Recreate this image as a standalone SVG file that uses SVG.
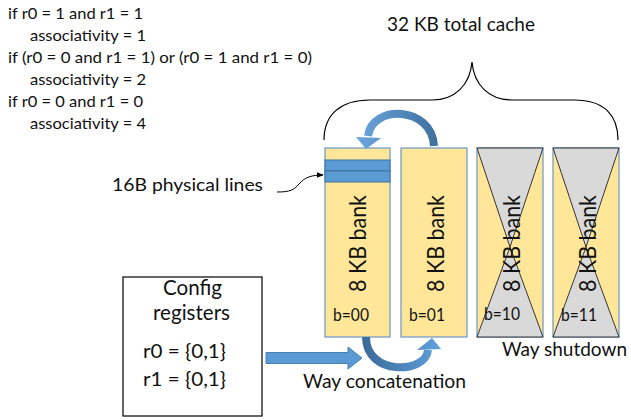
<svg xmlns="http://www.w3.org/2000/svg" width="631" height="420" viewBox="0 0 631 420">
<style>
text{font-family:Lato,"Open Sans","Liberation Sans",sans-serif;fill:#111}
.bank{fill:#ffe699;stroke:#6a98c8;stroke-width:1.2}
.tri{fill:#d9d9d9;stroke:#222;stroke-width:0.9}
.line{fill:#5b9bd5;stroke:#41719c;stroke-width:1}
.bt{font-size:24px}
.bl{font-size:17px}
.cond{font-size:16px}
</style>
<defs>
<linearGradient id="gTop" gradientUnits="userSpaceOnUse" x1="360" y1="0" x2="440" y2="0">
<stop offset="0" stop-color="#6aa4dc"/><stop offset="1" stop-color="#3d6e9d"/>
</linearGradient>
<linearGradient id="gBot" gradientUnits="userSpaceOnUse" x1="362" y1="0" x2="440" y2="0">
<stop offset="0" stop-color="#3b6a98"/><stop offset="1" stop-color="#5fa0dc"/>
</linearGradient>
<marker id="ah" viewBox="0 0 10 10" refX="9" refY="5" markerWidth="7" markerHeight="7" orient="auto">
<path d="M0,1 L10,5 L0,9 Z" fill="#000"/>
</marker>
</defs>

<g id="conditions">
<text class="cond" x="8" y="19" textLength="135" lengthAdjust="spacingAndGlyphs">if r0 = 1 and r1 = 1</text>
<text class="cond" x="30" y="41" textLength="116" lengthAdjust="spacingAndGlyphs">associativity = 1</text>
<text class="cond" x="8" y="63" textLength="304" lengthAdjust="spacingAndGlyphs">if (r0 = 0 and r1 = 1) or (r0 = 1 and r1 = 0)</text>
<text class="cond" x="30" y="85" textLength="116" lengthAdjust="spacingAndGlyphs">associativity = 2</text>
<text class="cond" x="8" y="107" textLength="135" lengthAdjust="spacingAndGlyphs">if r0 = 0 and r1 = 0</text>
<text class="cond" x="30" y="129" textLength="116" lengthAdjust="spacingAndGlyphs">associativity = 4</text>
</g>

<g id="total-cache">
<text x="387" y="31" font-size="20" textLength="148" lengthAdjust="spacingAndGlyphs">32 KB total cache</text>
<path d="M324,140 C324,115 340,100 370,100 L432,100 C455,100 470,85 472,62 C474,85 489,100 512,100 L574,100 C604,100 618,115 618,140" fill="none" stroke="#000" stroke-width="1.2"/>
</g>

<g id="bank0">
<rect class="bank" x="325" y="148" width="65" height="189"/>
<rect class="line" x="325" y="160" width="65" height="11"/>
<rect class="line" x="325" y="171" width="65" height="11"/>
<text class="bt" transform="translate(366,243.5) rotate(-90)" text-anchor="middle" textLength="97" lengthAdjust="spacingAndGlyphs">8 KB bank</text>
<text class="bl" x="333" y="321" textLength="36" lengthAdjust="spacingAndGlyphs">b=00</text>
</g>

<g id="bank1">
<rect class="bank" x="401" y="148" width="66" height="189"/>
<text class="bt" transform="translate(443.5,243.5) rotate(-90)" text-anchor="middle" textLength="97" lengthAdjust="spacingAndGlyphs">8 KB bank</text>
<text class="bl" x="409" y="321" textLength="36" lengthAdjust="spacingAndGlyphs">b=01</text>
</g>

<g id="bank2">
<rect class="bank" x="477" y="148" width="66" height="189"/>
<path class="tri" d="M477,148 L543,148 L510,247 Z"/>
<path class="tri" d="M477,337 L543,337 L510,247 Z"/>
<text class="bt" transform="translate(519.5,243.5) rotate(-90)" text-anchor="middle" textLength="97" lengthAdjust="spacingAndGlyphs">8 KB bank</text>
<text class="bl" x="484" y="320" textLength="36" lengthAdjust="spacingAndGlyphs">b=10</text>
</g>

<g id="bank3">
<rect class="bank" x="553" y="148" width="66" height="189"/>
<path class="tri" d="M553,148 L619,148 L586,247 Z"/>
<path class="tri" d="M553,337 L619,337 L586,247 Z"/>
<text class="bt" transform="translate(595.5,243.5) rotate(-90)" text-anchor="middle" textLength="97" lengthAdjust="spacingAndGlyphs">8 KB bank</text>
<text class="bl" x="561" y="321" textLength="36" lengthAdjust="spacingAndGlyphs">b=11</text>
</g>

<g id="config">
<rect x="123" y="277" width="139" height="139" fill="#fff" stroke="#000" stroke-width="1.2"/>
<text x="192.5" y="295" font-size="21" text-anchor="middle" textLength="59" lengthAdjust="spacingAndGlyphs">Config</text>
<text x="191.5" y="320" font-size="21" text-anchor="middle" textLength="77" lengthAdjust="spacingAndGlyphs">registers</text>
<text x="143" y="358" font-size="20" textLength="83" lengthAdjust="spacingAndGlyphs">r0 = {0,1}</text>
<text x="143" y="386" font-size="20" textLength="83" lengthAdjust="spacingAndGlyphs">r1 = {0,1}</text>
</g>

<g id="labels">
<text x="112" y="191" font-size="18" textLength="151" lengthAdjust="spacingAndGlyphs">16B physical lines</text>
<text x="303" y="388" font-size="20" textLength="163" lengthAdjust="spacingAndGlyphs">Way concatenation</text>
<text x="502" y="356" font-size="19" textLength="125" lengthAdjust="spacingAndGlyphs">Way shutdown</text>
</g>

<g id="connectors">
<path d="M277,192 C290,192 294,190 299,184 C305,177 312,175 323,175" fill="none" stroke="#000" stroke-width="1" marker-end="url(#ah)"/>
<path d="M434,146 C432,106 372,104 368,136" fill="none" stroke="url(#gTop)" stroke-width="8"/>
<path d="M356,137 L381,138 L366,149 Z" fill="url(#gTop)"/>
<path d="M366,337 C366,376 426,374 428,350" fill="none" stroke="url(#gBot)" stroke-width="8"/>
<path d="M417,350 L441,349 L432,338 Z" fill="url(#gBot)"/>
<path d="M266,352.5 L348,352.5 L348,347 L362,358 L348,369 L348,363.5 L266,363.5 Z" fill="#5b9bd5" stroke="#4a7fb0" stroke-width="1"/>
</g>
</svg>
